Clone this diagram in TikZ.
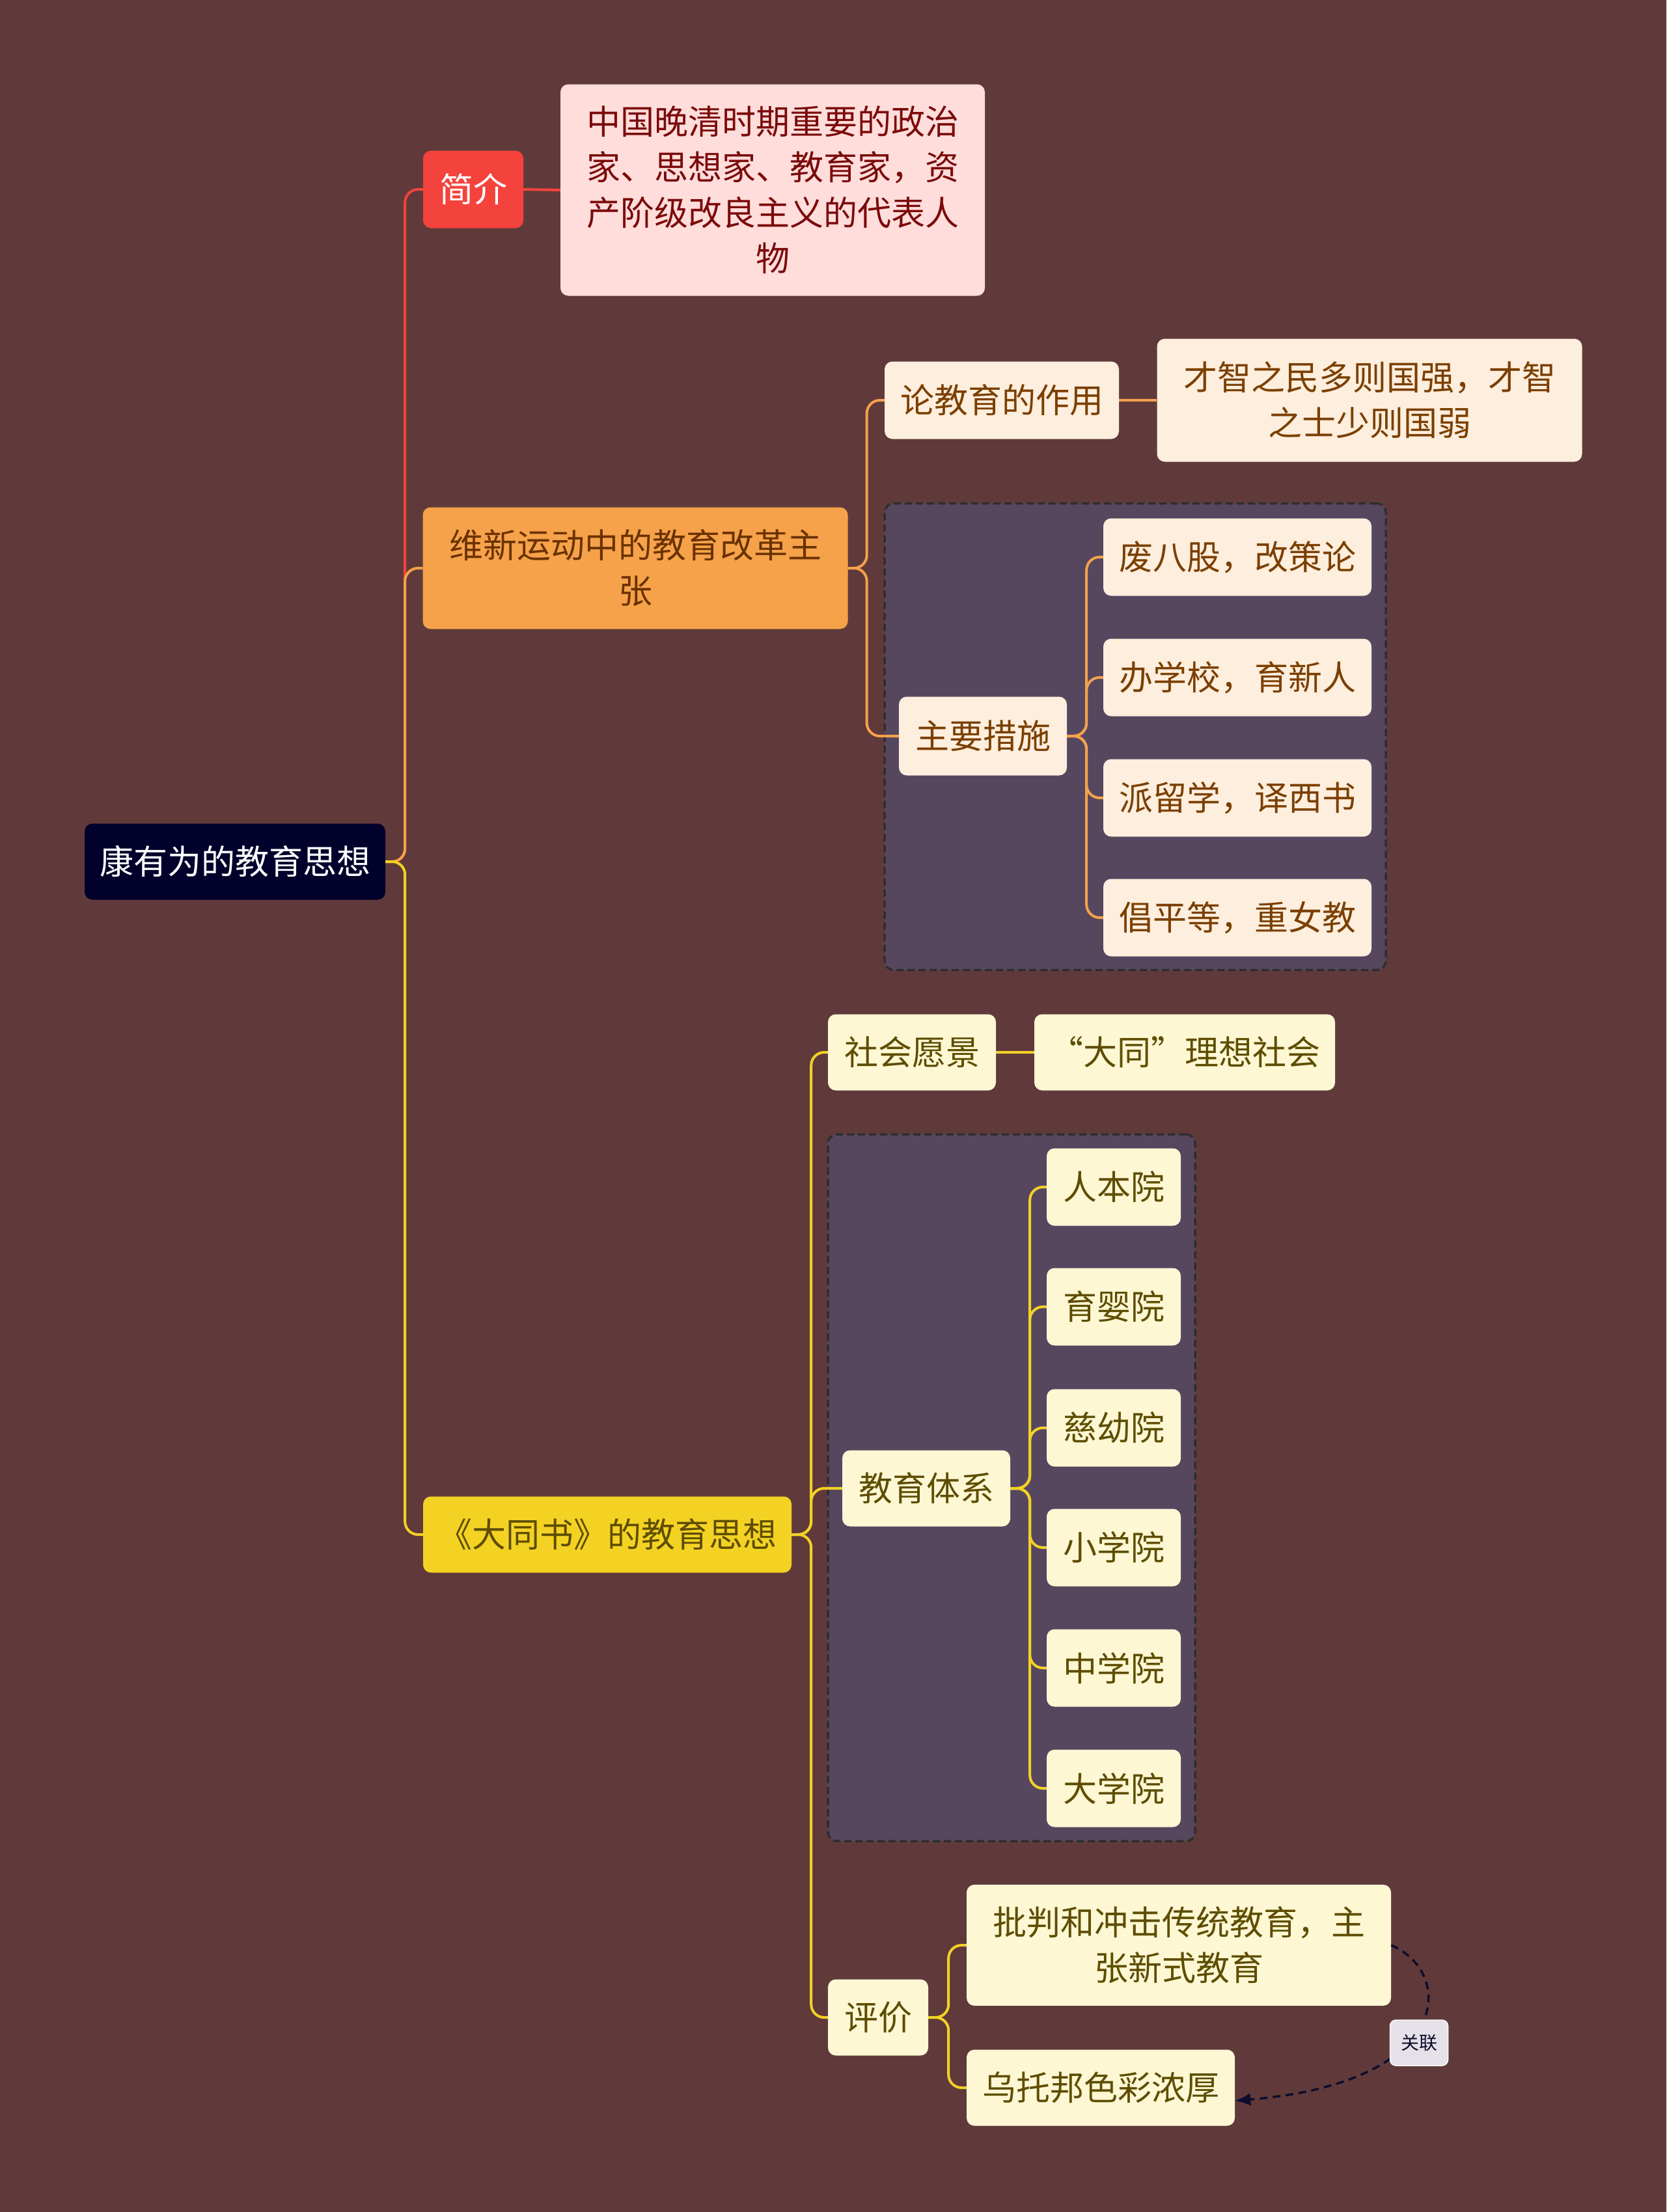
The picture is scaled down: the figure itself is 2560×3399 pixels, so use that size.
\documentclass[tikz,border=0pt]{standalone}
\usepackage{fontspec}
\setmainfont{Noto Sans CJK SC}
\usetikzlibrary{arrows.meta}
\definecolor{bgc}{HTML}{603A3A}
\definecolor{rootc}{HTML}{01012B}
\definecolor{redc}{HTML}{F4433C}
\definecolor{pinkc}{HTML}{FEDDDB}
\definecolor{pinkt}{HTML}{7B0A0A}
\definecolor{orangec}{HTML}{F5A24B}
\definecolor{oranget}{HTML}{6B3200}
\definecolor{peachc}{HTML}{FDEEDD}
\definecolor{peacht}{HTML}{7B3F00}
\definecolor{yellowc}{HTML}{F3D224}
\definecolor{creamc}{HTML}{FDF7D4}
\definecolor{creamt}{HTML}{5E4D00}
\definecolor{grpc}{HTML}{56475F}
\definecolor{grpb}{HTML}{2E2E2E}
\definecolor{relc}{HTML}{0D0D2E}
\definecolor{relbg}{HTML}{E6E1E8}
\begin{document}
\begin{tikzpicture}[x=1pt,y=-1pt,
  box/.style={rounded corners=12pt, inner sep=0pt, align=center,
    font=\fontsize{52}{70}\selectfont},
  rootbox/.style={box, fill=rootc, text=white},
  redbox/.style={box, fill=redc, text=white},
  pinkbox/.style={box, fill=pinkc, text=pinkt},
  orangebox/.style={box, fill=orangec, text=oranget},
  peachbox/.style={box, fill=peachc, text=peacht},
  yellowbox/.style={box, fill=yellowc, text=creamt},
  creambox/.style={box, fill=creamc, text=creamt},
  grp/.style={rounded corners=14pt, fill=grpc, draw=grpb, line width=3.5pt,
    dash pattern=on 11pt off 6pt, inner sep=0pt},
  lnk/.style={line width=4pt, rounded corners=20pt},
  rellink/.style={draw=relc, line width=3.5pt, dash pattern=on 12pt off 8pt,
    -{Latex[length=24pt,width=20pt]}},
  rellabel/.style={rounded corners=9pt, fill=relbg, draw=white!85!relbg,
    line width=1.5pt, text=relc, inner sep=0pt,
    font=\fontsize{28}{34}\selectfont}
]
\fill[bgc] (0,0) rectangle (2560,3399);
\useasboundingbox (0,0) rectangle (2560,3399);

% groups
\node[grp, minimum width=770pt, minimum height=717pt] (g1) at (1744,1132) {};
\node[grp, minimum width=564pt, minimum height=1086pt] (g2) at (1554,2286) {};

% root
\node[rootbox, minimum width=462pt, minimum height=117pt] (root) at (361,1324) {康有为的教育思想};

% level 1
\node[redbox, minimum width=154pt, minimum height=119pt] (jj) at (727,291) {简介};
\node[orangebox, minimum width=653pt, minimum height=187pt, text width=600pt] (wx) at (976,873) {维新运动中的教育改革主\\张};
\node[yellowbox, minimum width=566pt, minimum height=117pt] (dt) at (933,2358) {《大同书》的教育思想};

% 简介 child
\node[pinkbox, minimum width=652pt, minimum height=325pt, text width=600pt] (jjt) at (1187,292) {中国晚清时期重要的政治\\家、思想家、教育家，资\\产阶级改良主义的代表人\\物};

% 维新 children
\node[peachbox, minimum width=360pt, minimum height=119pt] (lj) at (1539,615) {论教育的作用};
\node[peachbox, minimum width=653pt, minimum height=189pt, text width=600pt] (ljt) at (2104,615) {才智之民多则国强，才智\\之士少则国弱};
\node[peachbox, minimum width=258pt, minimum height=121pt] (zy) at (1510,1131) {主要措施};
\node[peachbox, minimum width=412pt, minimum height=119pt] (m1) at (1901,856) {废八股，改策论};
\node[peachbox, minimum width=412pt, minimum height=119pt] (m2) at (1901,1041) {办学校，育新人};
\node[peachbox, minimum width=412pt, minimum height=119pt] (m3) at (1901,1226) {派留学，译西书};
\node[peachbox, minimum width=412pt, minimum height=119pt] (m4) at (1901,1410) {倡平等，重女教};

% 大同书 children
\node[creambox, minimum width=258pt, minimum height=117pt] (sh) at (1401,1617) {社会愿景};
\node[creambox, minimum width=462pt, minimum height=117pt] (sht) at (1820,1617) {“大同”理想社会};
\node[creambox, minimum width=258pt, minimum height=117pt] (jy) at (1423,2287) {教育体系};
\node[creambox, minimum width=206pt, minimum height=119pt] (s1) at (1711,1824) {人本院};
\node[creambox, minimum width=206pt, minimum height=119pt] (s2) at (1711,2008) {育婴院};
\node[creambox, minimum width=206pt, minimum height=119pt] (s3) at (1711,2194) {慈幼院};
\node[creambox, minimum width=206pt, minimum height=119pt] (s4) at (1711,2378) {小学院};
\node[creambox, minimum width=206pt, minimum height=119pt] (s5) at (1711,2563) {中学院};
\node[creambox, minimum width=206pt, minimum height=119pt] (s6) at (1711,2748) {大学院};
\node[creambox, minimum width=154pt, minimum height=117pt] (pj) at (1349,3100) {评价};
\node[creambox, minimum width=652pt, minimum height=186pt, text width=600pt] (pj1) at (1811,2989) {批判和冲击传统教育，主\\张新式教育};
\node[creambox, minimum width=412pt, minimum height=117pt] (pj2) at (1691,3208) {乌托邦色彩浓厚};

% connectors
\draw[lnk, draw=redc] (root.east) -- ++(30,0) |- (jj.west);
\draw[lnk, draw=redc] (jj.east) -- (jjt.west);
\draw[lnk, draw=orangec] (root.east) -- ++(30,0) |- (wx.west);
\draw[lnk, draw=yellowc] (root.east) -- ++(30,0) |- (dt.west);

\draw[lnk, draw=orangec] (wx.east) -- ++(29,0) |- (lj.west);
\draw[lnk, draw=orangec] (wx.east) -- ++(29,0) |- (zy.west);
\draw[lnk, draw=orangec] (lj.east) -- (ljt.west);
\foreach \c in {m1,m2,m3,m4}
  \draw[lnk, draw=orangec] (zy.east) -- ++(30,0) |- (\c.west);

\draw[lnk, draw=yellowc] (dt.east) -- ++(30,0) |- (sh.west);
\draw[lnk, draw=yellowc] (dt.east) -- ++(30,0) |- (jy.west);
\draw[lnk, draw=yellowc] (dt.east) -- ++(30,0) |- (pj.west);
\draw[lnk, draw=yellowc] (sh.east) -- (sht.west);
\foreach \c in {s1,s2,s3,s4,s5,s6}
  \draw[lnk, draw=yellowc] (jy.east) -- ++(30,0) |- (\c.west);
\draw[lnk, draw=yellowc] (pj.east) -- ++(31,0) |- (pj1.west);
\draw[lnk, draw=yellowc] (pj.east) -- ++(31,0) |- (pj2.west);

% relation
\draw[rellink] (pj1.east) .. controls (2235,3030) and (2235,3200) .. ([yshift=-20pt]pj2.east);
\node[rellabel, minimum width=89pt, minimum height=70pt] (rl) at (2180,3139) {关联};
\end{tikzpicture}
\end{document}
